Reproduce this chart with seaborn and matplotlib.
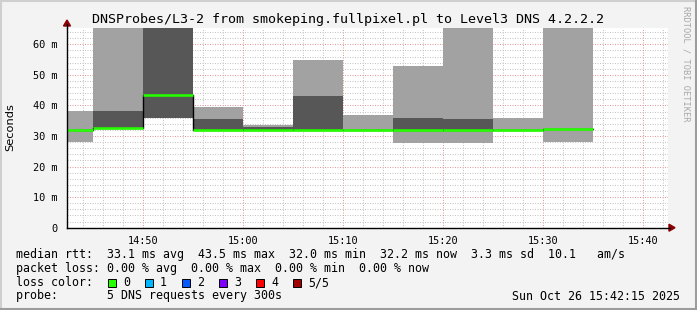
import numpy as np
import pandas as pd
import matplotlib
matplotlib.use("Agg")
import matplotlib.pyplot as plt
import seaborn as sns
from matplotlib.patches import Rectangle, Polygon
from matplotlib.lines import Line2D
from matplotlib.ticker import FixedLocator, MultipleLocator

# ---------------- data (minutes after 14:00, milliseconds) ----------------
bin_start = [40, 45, 50, 55, 60, 65, 70, 75, 80, 85, 90]
bin_width = 5
ping_min  = [28.1, 32.6, 35.8, 32.0, 32.0, 32.0, 32.0, 27.8, 27.8, 32.0, 27.9]
ping_lo   = [32.1, 32.6, 35.8, 32.0, 32.0, 32.0, 32.0, 32.0, 32.0, 32.0, 32.2]
median    = [32.1, 32.6, 43.5, 32.0, 32.0, 32.0, 32.0, 32.0, 32.0, 32.0, 32.2]
ping_hi   = [32.1, 38.2, 75.0, 35.6, 33.0, 43.1, 32.0, 35.8, 35.6, 32.0, 32.2]
ping_max  = [38.3, 72.0, 80.0, 39.6, 33.6, 54.9, 37.0, 52.9, 75.0, 35.9, 75.0]

x_ticks = [50, 60, 70, 80, 90, 100]
x_tick_labels = ["14:50", "15:00", "15:10", "15:20", "15:30", "15:40"]
y_ticks = [0, 10, 20, 30, 40, 50, 60]
y_tick_labels = ["0", "10 m", "20 m", "30 m", "40 m", "50 m", "60 m"]

title = "DNSProbes/L3-2 from smokeping.fullpixel.pl to Level3 DNS 4.2.2.2"
legend_rows = [
    "median rtt:  33.1 ms avg  43.5 ms max  32.0 ms min  32.2 ms now  3.3 ms sd  10.1   am/s",
    "packet loss: 0.00 % avg  0.00 % max  0.00 % min  0.00 % now",
    "loss color:",
    "probe:       5 DNS requests every 300s",
]
loss_labels = ["0", "1", "2", "3", "4", "5/5"]
loss_colors = ["#26ff00", "#00b8ff", "#0059ff", "#7e00ff", "#ff0000", "#a10000"]
timestamp = "Sun Oct 26 15:42:15 2025"

# ---------------- figure ----------------
W, H = 697, 310
sns.set_theme(style="white")
plt.rcParams["font.family"] = ["DejaVu Sans Mono", "DejaVu Sans"]
fig = plt.figure(figsize=(W / 100, H / 100), dpi=100)
fig.patch.set_facecolor("#f3f3f3")

def fx(px):
    return px / W

def fy(py):
    return 1 - py / H

x0p, x1p, y0p, y1p = 67, 668, 227.7, 28
ax = fig.add_axes([fx(x0p), fy(y0p), fx(x1p) - fx(x0p), fy(y1p) - fy(y0p)])
ax.set_facecolor("white")
XMIN, XMAX = 42.4, 102.5
YMAX = (y0p - y1p) / 3.057
ax.set_xlim(XMIN, XMAX)
ax.set_ylim(0, YMAX)

# grid
minor_c = "#c4c4c4"
major_c = "#e29a9a"
dots = (0, (1, 1.5))
for v in np.arange(0, XMAX + 1, 2):
    if v >= XMIN and v % 10 != 0:
        ax.axvline(v, color=minor_c, lw=0.72, ls=dots, zorder=0.5)
for v in np.arange(2, YMAX, 2):
    if v % 10 != 0:
        ax.axhline(v, color=minor_c, lw=0.72, ls=dots, zorder=0.5)
for v in x_ticks:
    ax.axvline(v, color=major_c, lw=0.72, ls=dots, zorder=0.6)
for v in y_ticks[1:]:
    ax.axhline(v, color=major_c, lw=0.72, ls=dots, zorder=0.6)

# smoke
edges = bin_start + [bin_start[-1] + bin_width]
def ext(a):
    return list(a) + [a[-1]]
light = "#a2a2a2"
dark = "#575757"
ax.fill_between(edges, ext(ping_min), ext(ping_lo), step="post", color=light, lw=0, zorder=1)
ax.fill_between(edges, ext(ping_lo), ext(ping_hi), step="post", color=dark, lw=0, zorder=1)
ax.fill_between(edges, ext(ping_hi), ext(ping_max), step="post", color=light, lw=0, zorder=1)

# median line (black step) + loss coloured segments
df = pd.DataFrame({"t": edges, "median": ext(median)})
sns.lineplot(data=df, x="t", y="median", drawstyle="steps-post", color="black",
             lw=1.0, ax=ax, zorder=2)
ax.hlines(median, bin_start, [b + bin_width for b in bin_start], color=loss_colors[0],
          lw=1.9, zorder=3)

# axes styling
for s in ["top", "right"]:
    ax.spines[s].set_visible(False)
for s in ["left", "bottom"]:
    ax.spines[s].set_color("black")
    ax.spines[s].set_linewidth(1.0)
    ax.spines[s].set_zorder(4)
ax.xaxis.set_major_locator(FixedLocator(x_ticks))
ax.set_xticklabels(x_tick_labels)
ax.yaxis.set_major_locator(FixedLocator(y_ticks))
ax.set_yticklabels(y_tick_labels)
ax.xaxis.set_minor_locator(MultipleLocator(2))
ax.yaxis.set_minor_locator(MultipleLocator(2))
ax.tick_params(axis="both", which="major", length=3, width=0.7, color="black",
               labelsize=7.4, labelcolor="black", direction="out")
ax.tick_params(axis="both", which="minor", length=1.5, width=0.7, color="black",
               direction="out")
ax.tick_params(axis="y", pad=4)
ax.tick_params(axis="x", pad=3)
ax.set_xlabel("")
ax.set_ylabel("")

# axis arrows
arrow_c = "#8b0000"
fig.add_artist(Line2D([fx(67), fx(67)], [fy(28), fy(24)], color="black", lw=1.0))
fig.add_artist(Polygon([[fx(63.5), fy(26)], [fx(70.5), fy(26)], [fx(67), fy(20)]],
                       closed=True, color=arrow_c, transform=fig.transFigure))
fig.add_artist(Line2D([fx(668), fx(670)], [fy(227.7), fy(227.7)], color="black", lw=1.0))
fig.add_artist(Polygon([[fx(669), fy(224.2)], [fx(669), fy(231.2)], [fx(675), fy(227.7)]],
                       closed=True, color=arrow_c, transform=fig.transFigure))

# texts
fig.text(fx(348), fy(19.5), title, ha="center", va="center", fontsize=9.6, color="black")
fig.text(fx(10), fy(127), "Seconds", rotation=90, ha="center", va="center",
         fontsize=8.2, family="DejaVu Sans", color="black")
fig.text(fx(686), fy(6), "RRDTOOL / TOBI OETIKER", rotation=270, ha="center", va="top",
         fontsize=6.2, color="#a8a8a8")

base = [258.3, 272.3, 286.3, 299.5]
for row, yb in zip(legend_rows, base):
    fig.text(fx(16), fy(yb), row, ha="left", va="baseline", fontsize=8.4, color="black")
box_x = [108, 145, 182, 219, 256, 293]
for bx, lab, col in zip(box_x, loss_labels, loss_colors):
    fig.add_artist(Rectangle((fx(bx), fy(287)), fx(8), 8 / H, facecolor=col,
                             edgecolor="black", lw=0.7, transform=fig.transFigure))
    fig.text(fx(bx + 15), fy(286.3), lab, ha="left", va="baseline", fontsize=8.4,
             color="black")
fig.text(fx(680), fy(299.5), timestamp, ha="right", va="baseline", fontsize=8.4,
         color="black")

# frame
fig.add_artist(Line2D([0, 1], [fy(0.5), fy(0.5)], color="#cfcfcf", lw=1.5))
fig.add_artist(Line2D([fx(0.5), fx(0.5)], [0, 1], color="#cfcfcf", lw=1.5))
fig.add_artist(Line2D([0, 1], [fy(308.5), fy(308.5)], color="#9c9c9c", lw=2.2))
fig.add_artist(Line2D([fx(695.5), fx(695.5)], [0, 1], color="#9c9c9c", lw=2.2))

fig.savefig("out.png", dpi=100, facecolor=fig.get_facecolor())
